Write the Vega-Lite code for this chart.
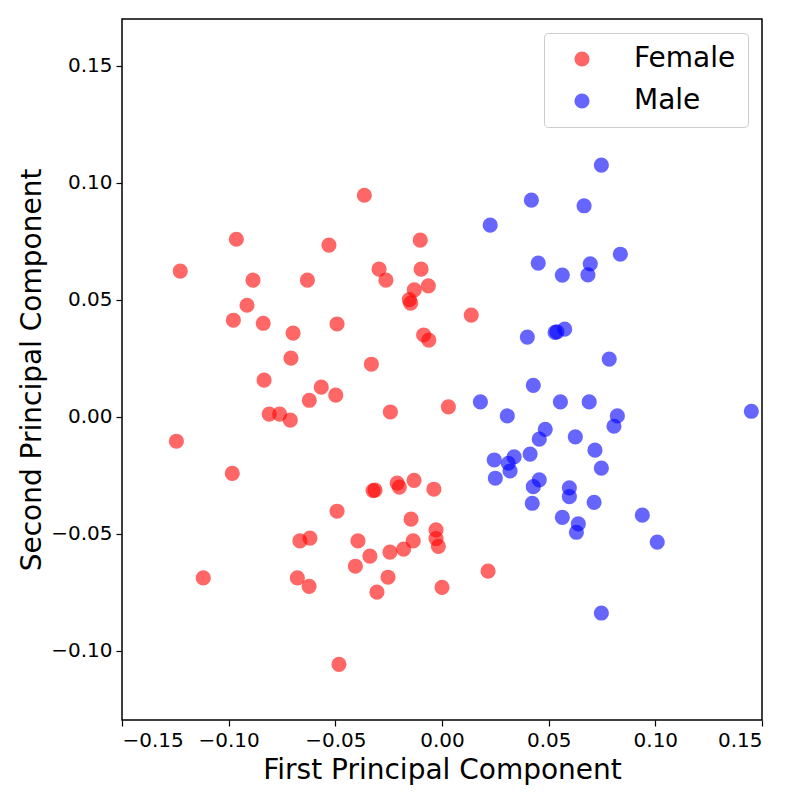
{
  "$schema": "https://vega.github.io/schema/vega-lite/v6.json",
  "width": 640,
  "height": 701,
  "autosize": {"type": "none"},
  "padding": {"left": 122, "top": 19, "right": 38, "bottom": 80},
  "background": "white",
  "config": {
    "font": "DejaVu Sans",
    "view": {"stroke": "black", "strokeWidth": 1.5},
    "axis": {
      "grid": false,
      "domain": false,
      "ticks": true,
      "tickColor": "black",
      "tickSize": 6,
      "tickWidth": 1.2,
      "labelFont": "DejaVu Sans",
      "labelFontSize": 20,
      "labelColor": "black",
      "labelPadding": 4,
      "titleFont": "DejaVu Sans",
      "titleFontSize": 28,
      "titleFontWeight": "normal",
      "titleColor": "black"
    }
  },
  "data": {
    "values": [
      {"Gender": "Female", "pc1": -0.1227, "pc2": 0.0623},
      {"Gender": "Female", "pc1": -0.1245, "pc2": -0.0104},
      {"Gender": "Female", "pc1": -0.1119, "pc2": -0.0688},
      {"Gender": "Female", "pc1": -0.0964, "pc2": 0.0759},
      {"Gender": "Female", "pc1": -0.0983, "pc2": -0.0241},
      {"Gender": "Female", "pc1": -0.0886, "pc2": 0.0584},
      {"Gender": "Female", "pc1": -0.0914, "pc2": 0.0477},
      {"Gender": "Female", "pc1": -0.0978, "pc2": 0.0413},
      {"Gender": "Female", "pc1": -0.0838, "pc2": 0.0400},
      {"Gender": "Female", "pc1": -0.0834, "pc2": 0.0157},
      {"Gender": "Female", "pc1": -0.0810, "pc2": 0.0012},
      {"Gender": "Female", "pc1": -0.0761, "pc2": 0.0012},
      {"Gender": "Female", "pc1": -0.0711, "pc2": -0.0014},
      {"Gender": "Female", "pc1": -0.0698, "pc2": 0.0358},
      {"Gender": "Female", "pc1": -0.0708, "pc2": 0.0251},
      {"Gender": "Female", "pc1": -0.0631, "pc2": 0.0584},
      {"Gender": "Female", "pc1": -0.0622, "pc2": 0.0071},
      {"Gender": "Female", "pc1": -0.0566, "pc2": 0.0127},
      {"Gender": "Female", "pc1": -0.0530, "pc2": 0.0734},
      {"Gender": "Female", "pc1": -0.0492, "pc2": 0.0397},
      {"Gender": "Female", "pc1": -0.0498, "pc2": 0.0093},
      {"Gender": "Female", "pc1": -0.0364, "pc2": 0.0947},
      {"Gender": "Female", "pc1": -0.0295, "pc2": 0.0631},
      {"Gender": "Female", "pc1": -0.0263, "pc2": 0.0584},
      {"Gender": "Female", "pc1": -0.0331, "pc2": 0.0225},
      {"Gender": "Female", "pc1": -0.0102, "pc2": 0.0755},
      {"Gender": "Female", "pc1": -0.0098, "pc2": 0.0631},
      {"Gender": "Female", "pc1": -0.0130, "pc2": 0.0543},
      {"Gender": "Female", "pc1": -0.0153, "pc2": 0.0501},
      {"Gender": "Female", "pc1": -0.0147, "pc2": 0.0486},
      {"Gender": "Female", "pc1": -0.0064, "pc2": 0.0560},
      {"Gender": "Female", "pc1": -0.0086, "pc2": 0.0350},
      {"Gender": "Female", "pc1": -0.0062, "pc2": 0.0328},
      {"Gender": "Female", "pc1": -0.0242, "pc2": 0.0021},
      {"Gender": "Female", "pc1": 0.0030, "pc2": 0.0043},
      {"Gender": "Female", "pc1": 0.0137, "pc2": 0.0435},
      {"Gender": "Female", "pc1": -0.0492, "pc2": -0.0403},
      {"Gender": "Female", "pc1": -0.0323, "pc2": -0.0315},
      {"Gender": "Female", "pc1": -0.0314, "pc2": -0.0313},
      {"Gender": "Female", "pc1": -0.0210, "pc2": -0.0283},
      {"Gender": "Female", "pc1": -0.0200, "pc2": -0.0300},
      {"Gender": "Female", "pc1": -0.0131, "pc2": -0.0271},
      {"Gender": "Female", "pc1": -0.0038, "pc2": -0.0309},
      {"Gender": "Female", "pc1": -0.0145, "pc2": -0.0437},
      {"Gender": "Female", "pc1": -0.0028, "pc2": -0.0483},
      {"Gender": "Female", "pc1": -0.0028, "pc2": -0.0520},
      {"Gender": "Female", "pc1": -0.0017, "pc2": -0.0553},
      {"Gender": "Female", "pc1": -0.0135, "pc2": -0.0530},
      {"Gender": "Female", "pc1": -0.0180, "pc2": -0.0565},
      {"Gender": "Female", "pc1": -0.0244, "pc2": -0.0578},
      {"Gender": "Female", "pc1": -0.0394, "pc2": -0.0530},
      {"Gender": "Female", "pc1": -0.0338, "pc2": -0.0595},
      {"Gender": "Female", "pc1": -0.0406, "pc2": -0.0638},
      {"Gender": "Female", "pc1": -0.0253, "pc2": -0.0685},
      {"Gender": "Female", "pc1": -0.0305, "pc2": -0.0749},
      {"Gender": "Female", "pc1": -0.0666, "pc2": -0.0530},
      {"Gender": "Female", "pc1": -0.0619, "pc2": -0.0518},
      {"Gender": "Female", "pc1": -0.0678, "pc2": -0.0688},
      {"Gender": "Female", "pc1": -0.0623, "pc2": -0.0724},
      {"Gender": "Female", "pc1": 0.0000, "pc2": -0.0728},
      {"Gender": "Female", "pc1": 0.0216, "pc2": -0.0659},
      {"Gender": "Female", "pc1": -0.0483, "pc2": -0.1057},
      {"Gender": "Male", "pc1": 0.0747, "pc2": 0.1076},
      {"Gender": "Male", "pc1": 0.0419, "pc2": 0.0926},
      {"Gender": "Male", "pc1": 0.0666, "pc2": 0.0902},
      {"Gender": "Male", "pc1": 0.0226, "pc2": 0.0819},
      {"Gender": "Male", "pc1": 0.0451, "pc2": 0.0657},
      {"Gender": "Male", "pc1": 0.0564, "pc2": 0.0606},
      {"Gender": "Male", "pc1": 0.0695, "pc2": 0.0654},
      {"Gender": "Male", "pc1": 0.0684, "pc2": 0.0607},
      {"Gender": "Male", "pc1": 0.0836, "pc2": 0.0695},
      {"Gender": "Male", "pc1": 0.0400, "pc2": 0.0341},
      {"Gender": "Male", "pc1": 0.0530, "pc2": 0.0361},
      {"Gender": "Male", "pc1": 0.0539, "pc2": 0.0363},
      {"Gender": "Male", "pc1": 0.0575, "pc2": 0.0375},
      {"Gender": "Male", "pc1": 0.0784, "pc2": 0.0247},
      {"Gender": "Male", "pc1": 0.0428, "pc2": 0.0135},
      {"Gender": "Male", "pc1": 0.0180, "pc2": 0.0064},
      {"Gender": "Male", "pc1": 0.0555, "pc2": 0.0064},
      {"Gender": "Male", "pc1": 0.0690, "pc2": 0.0064},
      {"Gender": "Male", "pc1": 0.0306, "pc2": 0.0004},
      {"Gender": "Male", "pc1": 0.0822, "pc2": 0.0004},
      {"Gender": "Male", "pc1": 0.0806, "pc2": -0.0040},
      {"Gender": "Male", "pc1": 0.1450, "pc2": 0.0024},
      {"Gender": "Male", "pc1": 0.0484, "pc2": -0.0053},
      {"Gender": "Male", "pc1": 0.0456, "pc2": -0.0095},
      {"Gender": "Male", "pc1": 0.0625, "pc2": -0.0085},
      {"Gender": "Male", "pc1": 0.0413, "pc2": -0.0159},
      {"Gender": "Male", "pc1": 0.0717, "pc2": -0.0142},
      {"Gender": "Male", "pc1": 0.0747, "pc2": -0.0219},
      {"Gender": "Male", "pc1": 0.0245, "pc2": -0.0184},
      {"Gender": "Male", "pc1": 0.0338, "pc2": -0.0171},
      {"Gender": "Male", "pc1": 0.0311, "pc2": -0.0198},
      {"Gender": "Male", "pc1": 0.0319, "pc2": -0.0231},
      {"Gender": "Male", "pc1": 0.0250, "pc2": -0.0262},
      {"Gender": "Male", "pc1": 0.0456, "pc2": -0.0269},
      {"Gender": "Male", "pc1": 0.0428, "pc2": -0.0298},
      {"Gender": "Male", "pc1": 0.0423, "pc2": -0.0369},
      {"Gender": "Male", "pc1": 0.0597, "pc2": -0.0303},
      {"Gender": "Male", "pc1": 0.0597, "pc2": -0.0341},
      {"Gender": "Male", "pc1": 0.0713, "pc2": -0.0365},
      {"Gender": "Male", "pc1": 0.0564, "pc2": -0.0429},
      {"Gender": "Male", "pc1": 0.0639, "pc2": -0.0457},
      {"Gender": "Male", "pc1": 0.0630, "pc2": -0.0493},
      {"Gender": "Male", "pc1": 0.0939, "pc2": -0.0420},
      {"Gender": "Male", "pc1": 0.1009, "pc2": -0.0535},
      {"Gender": "Male", "pc1": 0.0747, "pc2": -0.0838}
    ]
  },
  "mark": {
    "type": "point",
    "shape": "circle",
    "filled": true,
    "size": 230,
    "fillOpacity": 0.6,
    "strokeOpacity": 0.6,
    "strokeWidth": 1.2
  },
  "encoding": {
    "x": {
      "field": "pc1",
      "type": "quantitative",
      "title": "First Principal Component",
      "scale": {"domain": [-0.15, 0.15], "nice": false, "zero": false},
      "axis": {"values": [-0.15, -0.1, -0.05, 0, 0.05, 0.1, 0.15], "format": ".2f", "titlePadding": 6}
    },
    "y": {
      "field": "pc2",
      "type": "quantitative",
      "title": "Second Principal Component",
      "scale": {"domain": [-0.1295, 0.17], "nice": false, "zero": false},
      "axis": {"values": [-0.1, -0.05, 0, 0.05, 0.1, 0.15], "format": ".2f", "titlePadding": 4}
    },
    "color": {
      "field": "Gender",
      "type": "nominal",
      "scale": {"domain": ["Female", "Male"], "range": ["#ff0000", "#0000ff"]},
      "legend": {
        "title": null,
        "orient": "top-right",
        "offset": 14,
        "fillColor": "white",
        "strokeColor": "#cccccc",
        "cornerRadius": 4,
        "padding": 12,
        "symbolType": "circle",
        "symbolSize": 230,
        "symbolOpacity": 0.6,
        "symbolStrokeWidth": 1.2,
        "symbolOffset": 12,
        "labelOffset": 38,
        "labelFontSize": 28,
        "labelFont": "DejaVu Sans",
        "labelColor": "black",
        "rowPadding": 14
      }
    }
  }
}
